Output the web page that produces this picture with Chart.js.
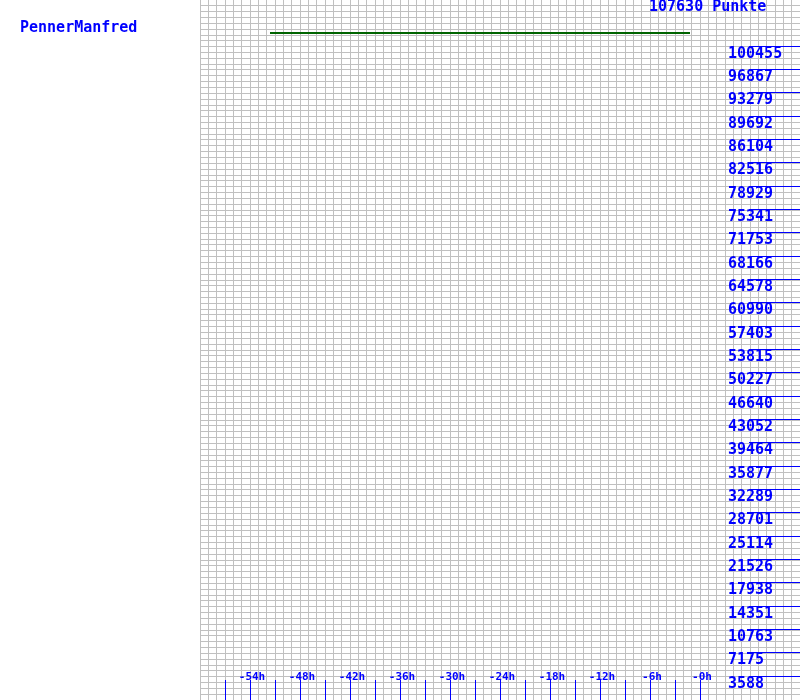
<!DOCTYPE html>
<html>
<head>
<meta charset="utf-8">
<script src="https://cdn.jsdelivr.net/npm/chart.js@4"></script>
<style>
  html, body { margin: 0; padding: 0; background: #ffffff; }
  #wrap { width: 800px; height: 700px; position: relative; }
</style>
</head>
<body>
<div id="wrap"><canvas id="c" width="800" height="700"></canvas></div>
<script>
// ---- data ----
const playerName = "PennerManfred";
const titleText = "107630 Punkte";
const hours = [-51.6, -1.2];            // x positions (hours before now)
const points = [102560, 102560];        // score values
const yTickValues = [3588, 7175, 10763, 14351, 17938, 21526, 25114, 28701, 32289, 35877,
  39464, 43052, 46640, 50227, 53815, 57403, 60990, 64578, 68166, 71753,
  75341, 78929, 82516, 86104, 89692, 93279, 96867, 100455];
const yTickLabels = yTickValues.map(String);
const xTickValues = [-54, -48, -42, -36, -30, -24, -18, -12, -6, 0];
const xTickLabels = ["-54h", "-48h", "-42h", "-36h", "-30h", "-24h", "-18h", "-12h", "-6h", "-0h"];
const xMarkValues = [-57, -54, -51, -48, -45, -42, -39, -36, -33, -30, -27, -24, -21, -18, -15, -12, -9, -6, -3, 0];
const yMax = 107630;
const xMin = -60, xMax = 12;

const BLUE = '#0000ff';
const FONT = '"DejaVu Sans Mono", "Liberation Mono", monospace';

const overlay = {
  id: 'overlay',
  afterDraw(chart) {
    const ctx = chart.ctx;
    const xs = chart.scales.x, ys = chart.scales.y;
    ctx.save();
    ctx.fillStyle = BLUE;
    // y labels + marks
    ctx.font = 'bold 15px ' + FONT;
    ctx.textAlign = 'left';
    ctx.textBaseline = 'middle';
    yTickValues.forEach((v, i) => {
      const py = Math.round(ys.getPixelForValue(v));
      ctx.fillRect(749, py - 1, 51, 1);
      ctx.fillText(yTickLabels[i], 728, py + 7);
    });
    // x marks
    xMarkValues.forEach(v => {
      const px = Math.round(xs.getPixelForValue(v));
      ctx.fillRect(px, 680, 1, 20);
    });
    // x labels
    ctx.font = 'bold 11px ' + FONT;
    ctx.textAlign = 'center';
    xTickValues.forEach((v, i) => {
      const px = xs.getPixelForValue(v);
      ctx.fillText(xTickLabels[i], px + 2, 677);
    });
    // title texts
    ctx.font = 'bold 15px ' + FONT;
    ctx.textAlign = 'left';
    ctx.fillText(titleText, 649, 7);
    ctx.fillText(playerName, 20, 28);
    ctx.restore();
  }
};

new Chart(document.getElementById('c'), {
  type: 'scatter',
  data: {
    datasets: [{
      data: hours.map((h, i) => ({ x: h, y: points[i] })),
      showLine: true,
      borderColor: '#006400',
      borderWidth: 2,
      pointRadius: 0,
      fill: false
    }]
  },
  options: {
    responsive: false,
    animation: false,
    layout: { padding: { left: 200, right: 0, top: 0, bottom: 0 } },
    plugins: { legend: { display: false }, tooltip: { enabled: false } },
    scales: {
      x: {
        type: 'linear', min: xMin, max: xMax,
        border: { display: false },
        ticks: { display: false },
        grid: { color: '#c0c0c0', lineWidth: 1, drawTicks: false },
        afterBuildTicks: s => {
          const t = [];
          for (let v = xMin; v < xMax; v++) t.push({ value: v });
          s.ticks = t;
        }
      },
      y: {
        type: 'linear', min: 0, max: yMax,
        border: { display: false },
        ticks: { display: false },
        grid: { color: '#c0c0c0', lineWidth: 1, drawTicks: false },
        afterBuildTicks: s => {
          const step = yMax / 120;
          const t = [];
          for (let k = 0; k < 120; k++) t.push({ value: k * step });
          s.ticks = t;
        }
      }
    }
  },
  plugins: [overlay]
});
</script>
</body>
</html>
